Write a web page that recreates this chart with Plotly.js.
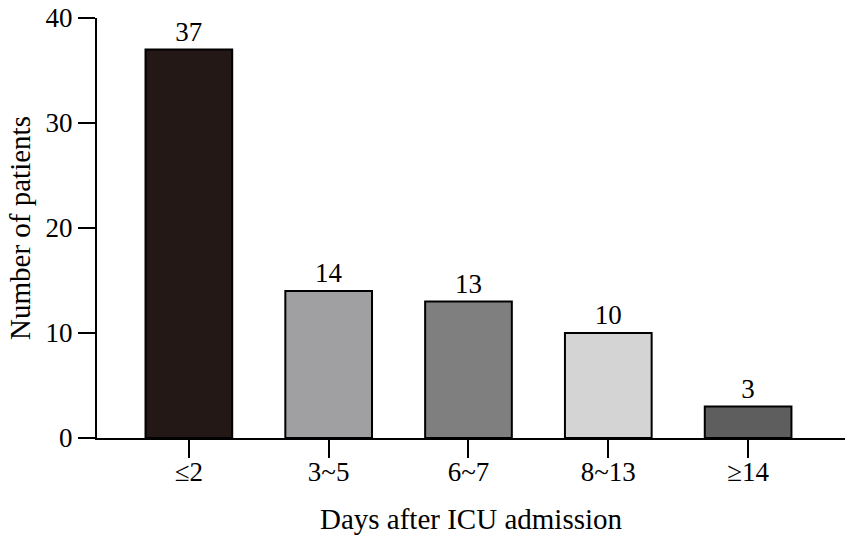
<!DOCTYPE html>
<html>
<head>
<meta charset="utf-8">
<script src="https://cdn.plot.ly/plotly-3.0.1.min.js"></script>
<style>
  html, body { margin: 0; padding: 0; background: #fff; }
  #chart { width: 851px; height: 541px; }
</style>
</head>
<body>
<div id="chart"></div>
<script>
var categories = ['≤2', '3~5', '6~7', '8~13', '≥14'];
var patients = [37, 14, 13, 10, 3];
var barColors = ['#231815', '#a0a0a2', '#7f7f7f', '#d4d4d4', '#5e5e5e'];

var serif = 'Liberation Serif, Times New Roman, serif';

var trace = {
    type: 'bar',
    x: categories,
    y: patients,
    width: 0.62,
    marker: {
        color: barColors,
        line: { color: '#000', width: 2 }
    },
    text: patients.map(String),
    textposition: 'outside',
    cliponaxis: false,
    textfont: { family: serif, size: 27, color: '#000' },
    hoverinfo: 'skip'
};

var layout = {
    width: 851,
    height: 541,
    margin: { 't': 18, 'b': 103, 'l': 97, 'r': 6 },
    paper_bgcolor: '#fff',
    plot_bgcolor: '#fff',
    showlegend: false,
    font: { family: serif, size: 27, color: '#000' },
    xaxis: {
        range: [-0.657, 4.693],
        showline: true,
        linecolor: '#000',
        linewidth: 2,
        ticks: 'outside',
        ticklen: 18,
        tickwidth: 2,
        tickcolor: '#000',
        showgrid: false,
        zeroline: false,
        tickfont: { family: serif, size: 27 },
        ticklabelstandoff: -9,
        title: { text: 'Days after ICU admission', font: { family: serif, size: 29 }, standoff: 22 }
    },
    yaxis: {
        range: [0, 40],
        tickvals: [0, 10, 20, 30, 40],
        showline: true,
        linecolor: '#000',
        linewidth: 2,
        ticks: 'outside',
        ticklen: 17,
        tickwidth: 2,
        tickcolor: '#000',
        showgrid: false,
        zeroline: false,
        tickfont: { family: serif, size: 27 },
        title: { text: 'Number of patients', font: { family: serif, size: 29 }, standoff: 6 }
    }
};

Plotly.newPlot('chart', [trace], layout, { displayModeBar: false, staticPlot: true });
</script>
</body>
</html>
